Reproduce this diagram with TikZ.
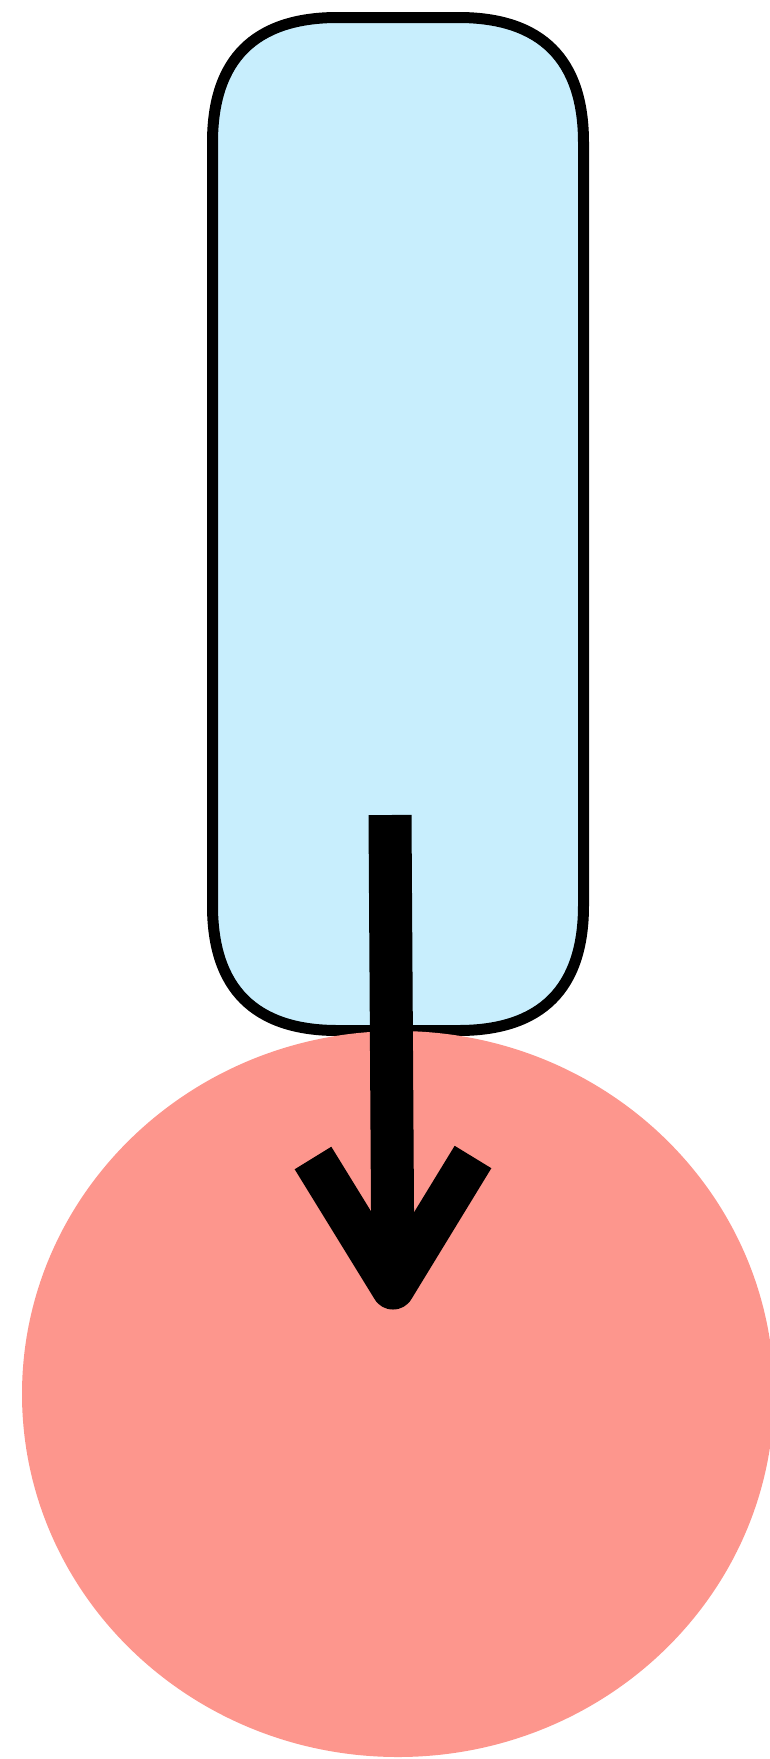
\documentclass[tikz,border=0pt]{standalone}
\usetikzlibrary{shapes.geometric}
\definecolor{boxblue}{RGB}{200,238,253}
\definecolor{ballpink}{RGB}{253,150,141}
\begin{document}
\begin{tikzpicture}[x=1pt,y=-1pt,
  boxline/.style={draw=black, line width=11pt, fill=boxblue},
  boxbase/.style={rectangle, draw=none, minimum width=371pt, minimum height=1013pt, inner sep=0pt, outer sep=0pt},
  ballstyle/.style={ellipse, fill=ballpink, minimum width=752pt, minimum height=726pt, inner sep=0pt, outer sep=0pt},
  arrowline/.style={draw=black, line width=43pt, line cap=butt}]
\useasboundingbox (0,0) rectangle (770,1759);
% smooth rounded box: L=212.5, R=583.5, T=17.5, B=1030.5
\path[boxline] (212.5,142.5) .. controls (212.5,59.5) and (254.5,17.5) .. (337.5,17.5)
  -- (458.5,17.5) .. controls (541.5,17.5) and (583.5,59.5) .. (583.5,142.5)
  -- (583.5,905.5) .. controls (583.5,988.5) and (541.5,1030.5) .. (458.5,1030.5)
  -- (337.5,1030.5) .. controls (254.5,1030.5) and (212.5,988.5) .. (212.5,905.5)
  -- cycle;
\node[boxbase] (box) at (398,524) {};
\node[ballstyle] (ball) at (398,1394) {};
\coordinate (start) at (390,815);
\coordinate (tip) at (393,1288);
\coordinate (hl) at (313,1158);
\coordinate (hr) at (473,1157);
\draw[arrowline] (start) -- (tip);
\draw[arrowline, line join=round] (hl) -- (tip) -- (hr);
\end{tikzpicture}
\end{document}
